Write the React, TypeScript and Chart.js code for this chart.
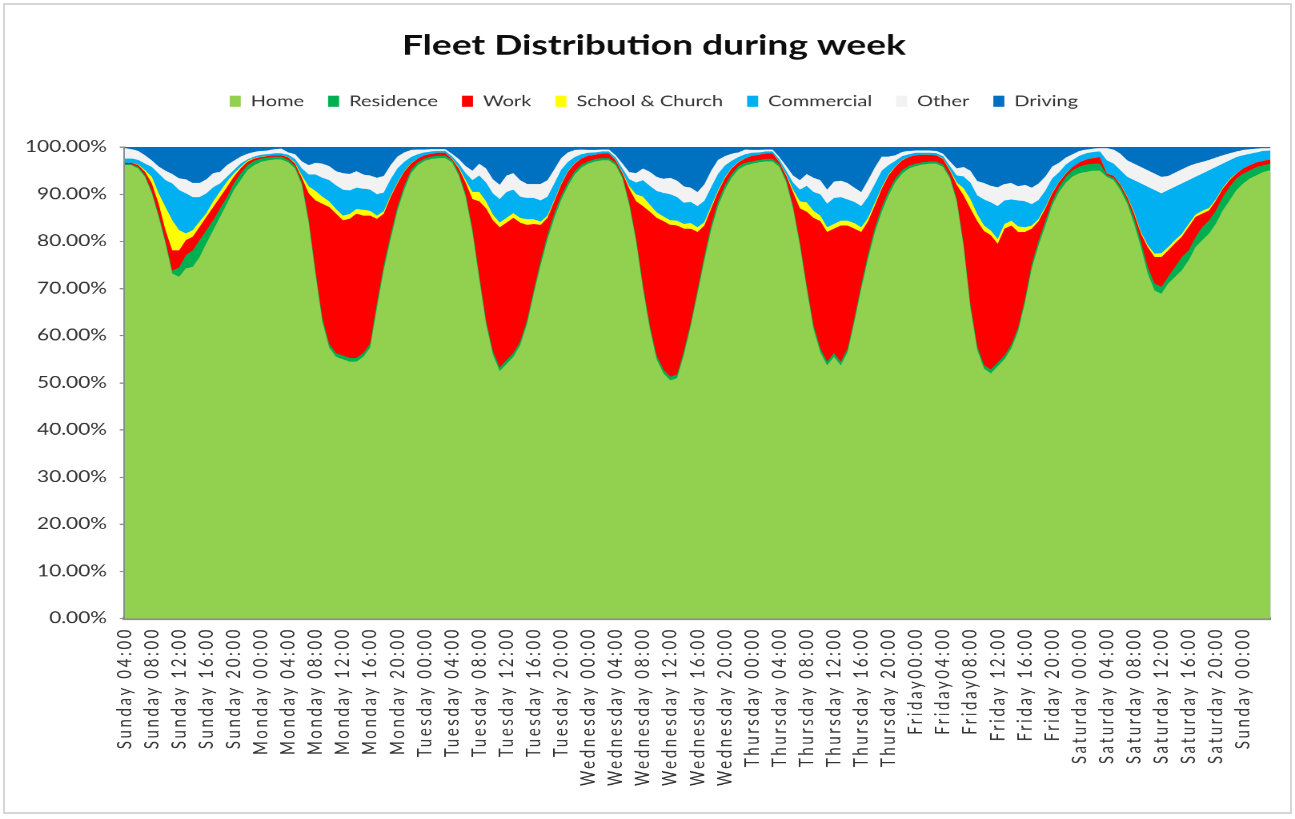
import React, { useEffect, useRef } from "react";
import { Chart, registerables } from "chart.js";

Chart.register(...registerables);

// ---------- tick labels (every 4th hourly category) ----------
const TICK_LABELS = [
  "Sunday 04:00", "Sunday 08:00", "Sunday 12:00", "Sunday 16:00", "Sunday 20:00",
  "Monday 00:00", "Monday 04:00", "Monday 08:00", "Monday 12:00", "Monday 16:00", "Monday 20:00",
  "Tuesday 00:00", "Tuesday 04:00", "Tuesday 08:00", "Tuesday 12:00", "Tuesday 16:00", "Tuesday 20:00",
  "Wednesday 00:00", "Wednesday 04:00", "Wednesday 08:00", "Wednesday 12:00", "Wednesday 16:00", "Wednesday 20:00",
  "Thursday 00:00", "Thursday 04:00", "Thursday 08:00", "Thursday 12:00", "Thursday 16:00", "Thursday 20:00",
  "Friday00:00", "Friday04:00", "Friday08:00", "Friday 12:00", "Friday 16:00", "Friday 20:00",
  "Saturday 00:00", "Saturday 04:00", "Saturday 08:00", "Saturday 12:00", "Saturday 16:00", "Saturday 20:00",
  "Sunday 00:00",
];

const DAY_NAMES = ["Sunday", "Monday", "Tuesday", "Wednesday", "Thursday", "Friday", "Saturday", "Sunday"];

// ---------- series values (% of fleet), hourly from Sunday 04:00 to next Sunday 04:00 ----------
const HOME = [
  96.2, 96.2, 95.5, 93.7, 90.2, 85.2, 79.6, 73.2, 72.5, 74.3, 74.6, 76.7, 79.6, 82.4, 85.2, 88.0, 90.9, 93.0, 95.1, 96.2, 96.9, 97.2, 97.4, 97.4,
  96.8, 95.5, 92.0, 84.0, 73.0, 63.0, 57.5, 55.5, 55.0, 54.5, 54.5, 55.5, 57.5, 66.0, 74.0, 80.5, 86.5, 91.0, 94.5, 96.2, 97.1, 97.5, 97.7, 97.7,
  96.8, 94.0, 89.5, 82.0, 72.0, 62.5, 56.0, 52.5, 54.0, 55.5, 58.0, 62.5, 69.0, 75.0, 80.5, 85.0, 88.8, 91.8, 94.2, 95.7, 96.5, 97.0, 97.2, 97.2,
  96.2, 93.4, 87.7, 80.0, 70.0, 61.5, 55.0, 52.0, 50.5, 51.0, 56.0, 62.0, 69.0, 76.0, 82.5, 87.5, 91.0, 93.5, 95.3, 96.1, 96.5, 96.8, 97.0, 97.0,
  95.8, 92.6, 87.0, 79.2, 70.0, 61.5, 56.5, 53.7, 55.5, 53.7, 56.5, 63.0, 70.0, 76.4, 82.0, 86.3, 89.8, 92.6, 94.4, 95.5, 96.0, 96.3, 96.5, 96.5,
  95.8, 93.4, 88.5, 79.0, 66.0, 57.0, 53.0, 52.0, 53.5, 55.0, 57.3, 61.0, 67.0, 74.3, 79.2, 83.4, 87.7, 90.5, 92.5, 93.8, 94.5, 94.8, 95.0, 95.0,
  93.7, 93.0, 90.9, 88.0, 83.8, 78.8, 73.2, 69.6, 68.9, 71.1, 72.5, 73.9, 76.0, 78.8, 80.3, 81.7, 83.8, 86.6, 88.7, 90.9, 92.3, 93.4, 94.1, 94.8,
  95.1,
];

const RESIDENCE = [
  0.2, 0.2, 0.3, 0.4, 0.4, 0.5, 0.5, 0.6, 2.0, 2.8, 3.5, 3.6, 2.8, 2.1, 1.8, 1.4, 1.4, 1.4, 1.1, 0.9, 0.7, 0.6, 0.6, 0.6,
  0.5, 0.5, 0.6, 0.7, 0.8, 0.8, 0.8, 0.8, 0.8, 0.8, 0.8, 0.8, 0.8, 1.0, 1.0, 1.0, 0.9, 0.8, 0.7, 0.6, 0.5, 0.5, 0.5, 0.5,
  0.5, 0.5, 0.6, 0.7, 0.8, 0.8, 0.8, 0.8, 0.8, 0.8, 0.8, 0.8, 0.8, 1.0, 1.0, 1.0, 0.9, 0.8, 0.7, 0.6, 0.5, 0.5, 0.5, 0.5,
  0.5, 0.5, 0.6, 0.7, 0.8, 0.8, 0.8, 0.8, 0.8, 0.8, 0.8, 0.8, 0.8, 1.0, 1.0, 1.0, 0.9, 0.8, 0.7, 0.6, 0.5, 0.5, 0.5, 0.5,
  0.5, 0.5, 0.6, 0.7, 0.8, 0.8, 0.8, 0.8, 0.8, 0.8, 0.8, 0.8, 0.8, 1.0, 1.0, 1.0, 0.9, 0.8, 0.7, 0.6, 0.5, 0.5, 0.5, 0.5,
  0.5, 0.5, 0.6, 0.7, 0.8, 0.8, 0.8, 0.8, 0.8, 0.8, 0.8, 0.8, 0.8, 1.0, 1.0, 1.0, 0.9, 1.0, 1.2, 1.3, 1.4, 1.5, 1.5, 1.5,
  0.4, 0.5, 0.7, 0.8, 1.1, 1.2, 1.4, 1.5, 1.5, 1.4, 2.1, 2.8, 2.1, 2.1, 2.8, 2.8, 2.8, 2.8, 2.9, 2.5, 2.1, 1.7, 1.7, 1.4,
  1.4,
];

const WORK = [
  0.3, 0.3, 0.4, 0.7, 1.7, 2.3, 2.3, 4.3, 3.6, 3.2, 2.9, 2.8, 2.8, 2.8, 2.4, 2.1, 1.4, 1.1, 0.7, 0.5, 0.3, 0.3, 0.3, 0.3,
  0.5, 0.5, 0.9, 5.5, 14.9, 24.2, 29.0, 29.6, 28.7, 29.5, 30.6, 29.2, 27.2, 17.8, 10.9, 7.9, 4.9, 3.0, 1.3, 0.8, 0.7, 0.6, 0.6, 0.6,
  0.2, 1.0, 2.4, 6.3, 15.7, 23.7, 27.7, 29.7, 29.2, 28.7, 25.2, 20.2, 13.9, 7.5, 3.5, 2.5, 2.3, 2.2, 1.6, 1.3, 1.2, 0.9, 1.0, 1.0,
  0.5, 0.6, 2.9, 7.8, 16.7, 24.0, 29.2, 31.5, 32.2, 31.6, 25.9, 19.9, 12.2, 6.4, 3.5, 2.0, 1.5, 1.2, 0.8, 0.9, 1.2, 1.1, 1.2, 1.2,
  0.5, 0.9, 2.9, 7.1, 15.5, 22.7, 27.0, 27.5, 26.4, 28.9, 26.1, 18.9, 11.2, 6.9, 4.7, 3.9, 3.3, 2.4, 2.1, 1.8, 1.8, 1.6, 1.4, 1.3,
  1.2, 1.1, 2.9, 10.1, 20.2, 26.5, 28.4, 28.5, 25.2, 26.9, 25.3, 20.2, 14.2, 7.4, 4.1, 2.6, 1.6, 1.1, 0.7, 0.7, 0.9, 1.1, 1.2, 1.4,
  0.3, 0.4, 0.4, 0.6, 1.0, 1.7, 4.2, 5.6, 6.3, 5.6, 5.0, 4.3, 5.0, 4.3, 2.8, 2.1, 2.1, 1.8, 1.4, 1.0, 1.1, 1.1, 1.0, 0.9,
  0.9,
];

const SCHOOL_CHURCH = [
  0, 0, 0.1, 0.3, 1.4, 2.2, 4.9, 6.4, 4.3, 1.4, 1.4, 1.1, 0.8, 1.2, 1.2, 1.2, 0.7, 0.3, 0.2, 0.1, 0.1, 0, 0, 0,
  0.1, 0.2, 0.5, 1.5, 2.0, 1.5, 1.2, 1.0, 1.0, 1.0, 1.0, 1.2, 1.0, 0.7, 0.5, 0.3, 0.2, 0.1, 0.1, 0, 0, 0, 0, 0,
  0.1, 0.2, 0.5, 1.5, 2.0, 1.5, 1.2, 1.0, 1.0, 1.0, 1.0, 1.2, 1.0, 0.7, 0.5, 0.3, 0.2, 0.1, 0.1, 0, 0, 0, 0, 0,
  0.1, 0.2, 0.5, 1.5, 2.0, 1.5, 1.2, 1.0, 1.0, 1.0, 1.0, 1.2, 1.0, 0.7, 0.5, 0.3, 0.2, 0.1, 0.1, 0, 0, 0, 0, 0,
  0.1, 0.2, 0.5, 1.5, 2.0, 1.5, 1.2, 1.0, 1.0, 1.0, 1.0, 1.2, 1.0, 0.7, 0.5, 0.3, 0.2, 0.1, 0.1, 0, 0, 0, 0, 0,
  0.1, 0.2, 0.5, 1.5, 2.0, 1.5, 1.2, 1.0, 1.0, 1.0, 1.0, 1.2, 1.0, 0.7, 0.5, 0.3, 0.2, 0.1, 0.1, 0, 0, 0, 0, 0,
  0, 0, 0.1, 0.2, 0.3, 0.3, 0.4, 0.7, 0.8, 0.7, 0.7, 0.6, 0.6, 0.5, 0.6, 0.5, 0.3, 0.2, 0.2, 0.1, 0, 0, 0, 0,
  0,
];

const COMMERCIAL = [
  0.9, 0.9, 1.0, 1.4, 2.1, 4.2, 5.7, 7.8, 8.5, 8.5, 7.0, 5.2, 4.2, 3.0, 1.7, 1.0, 0.7, 0.7, 0.3, 0.3, 0.4, 0.4, 0.4, 0.4,
  0.5, 0.8, 1.5, 2.5, 3.5, 4.0, 4.5, 5.0, 5.5, 5.0, 4.5, 4.5, 4.5, 4.5, 4.0, 3.5, 3.0, 2.0, 1.3, 0.9, 0.6, 0.5, 0.4, 0.4,
  0.5, 0.8, 1.5, 2.5, 3.5, 4.0, 4.5, 5.0, 5.5, 5.0, 4.5, 4.5, 4.5, 4.5, 4.0, 3.5, 3.0, 2.0, 1.3, 0.9, 0.6, 0.5, 0.4, 0.4,
  0.5, 0.8, 1.5, 2.5, 3.5, 4.0, 4.5, 5.0, 5.5, 5.0, 4.5, 4.5, 4.5, 4.5, 4.0, 3.5, 2.5, 1.5, 1.0, 0.9, 0.6, 0.5, 0.4, 0.4,
  0.5, 0.8, 1.5, 2.5, 3.5, 4.0, 4.5, 5.0, 5.5, 5.0, 4.5, 4.5, 4.5, 4.5, 4.0, 3.5, 2.0, 1.2, 0.8, 0.6, 0.5, 0.4, 0.4, 0.4,
  0.5, 0.8, 1.5, 2.5, 3.5, 4.0, 5.5, 6.0, 7.0, 5.0, 4.5, 5.5, 5.5, 4.5, 4.0, 3.5, 3.0, 2.0, 1.8, 1.5, 1.4, 1.3, 1.3, 1.2,
  2.8, 2.6, 3.0, 4.1, 6.8, 10.3, 12.4, 13.5, 12.7, 12.1, 11.3, 10.7, 9.3, 8.0, 7.9, 8.0, 6.8, 5.1, 4.0, 3.4, 2.8, 2.4, 2.1, 2.1,
  1.9,
];

const OTHER = [
  2.2, 2.0, 1.9, 1.8, 1.4, 1.5, 2.0, 2.0, 2.5, 3.0, 3.0, 3.0, 3.0, 3.0, 2.5, 2.5, 2.0, 1.5, 1.2, 1.0, 0.8, 0.8, 0.9, 1.0,
  0.5, 1.0, 1.5, 2.0, 2.5, 3.0, 3.0, 3.0, 3.5, 3.5, 3.5, 3.0, 3.0, 3.5, 3.5, 3.0, 2.5, 2.0, 1.5, 1.0, 0.6, 0.5, 0.4, 0.4,
  0.5, 1.0, 1.5, 2.0, 2.5, 3.0, 3.0, 3.0, 3.5, 3.5, 3.5, 3.0, 3.0, 3.5, 3.5, 3.0, 2.5, 2.0, 1.5, 1.0, 0.6, 0.5, 0.4, 0.4,
  0.5, 1.0, 1.5, 2.0, 2.5, 3.0, 3.0, 3.0, 3.5, 3.5, 3.5, 3.0, 3.0, 3.5, 3.5, 3.0, 2.0, 1.5, 1.0, 1.0, 0.6, 0.5, 0.4, 0.4,
  0.5, 1.0, 1.5, 2.0, 2.5, 3.0, 3.0, 3.0, 3.5, 3.5, 3.5, 3.0, 3.0, 3.5, 3.5, 3.0, 1.8, 1.2, 0.9, 0.7, 0.5, 0.5, 0.5, 0.5,
  0.5, 1.0, 1.5, 2.0, 2.5, 3.0, 3.5, 3.5, 4.0, 3.5, 3.5, 3.0, 3.5, 3.5, 3.5, 3.0, 2.5, 2.0, 1.5, 1.2, 1.0, 0.8, 0.7, 0.7,
  2.6, 3.0, 3.5, 3.5, 3.5, 3.5, 3.5, 3.5, 3.5, 3.0, 3.0, 3.0, 3.0, 2.8, 2.5, 2.2, 2.0, 1.8, 1.5, 1.2, 1.1, 1.0, 0.8, 0.6,
  0.5,
];

const DRIVING = [
  0.2, 0.4, 0.8, 1.7, 2.8, 4.1, 5.0, 5.7, 6.6, 6.8, 7.6, 7.6, 6.8, 5.5, 5.2, 3.8, 2.9, 2.0, 1.4, 1.0, 0.8, 0.7, 0.4, 0.3,
  1.1, 1.5, 3.0, 3.8, 3.3, 3.5, 4.0, 5.1, 5.5, 5.7, 5.1, 5.8, 6.0, 6.5, 6.1, 3.8, 2.0, 1.1, 0.6, 0.5, 0.5, 0.4, 0.4, 0.4,
  1.4, 2.5, 4.0, 5.0, 3.5, 4.5, 6.8, 8.0, 6.0, 5.5, 7.0, 7.8, 7.8, 7.8, 7.0, 4.7, 2.3, 1.1, 0.6, 0.5, 0.6, 0.6, 0.5, 0.5,
  1.7, 3.5, 5.3, 5.5, 4.5, 5.2, 6.3, 6.7, 6.5, 7.1, 8.3, 8.6, 9.5, 7.9, 5.0, 2.7, 1.9, 1.4, 1.1, 0.5, 0.6, 0.6, 0.5, 0.5,
  2.1, 4.0, 6.0, 7.0, 5.7, 6.5, 7.0, 9.0, 7.3, 7.1, 7.6, 8.6, 9.5, 7.0, 4.3, 2.0, 2.0, 1.7, 1.0, 0.8, 0.7, 0.7, 0.7, 0.8,
  1.4, 3.0, 4.5, 4.2, 5.0, 7.2, 7.6, 8.2, 8.5, 7.8, 7.6, 8.3, 8.0, 8.6, 7.7, 6.2, 4.1, 3.3, 2.2, 1.5, 0.8, 0.5, 0.3, 0.2,
  0.2, 0.5, 1.4, 2.8, 3.5, 4.2, 4.9, 5.6, 6.3, 6.1, 5.4, 4.7, 4.0, 3.5, 3.1, 2.7, 2.2, 1.7, 1.3, 0.9, 0.6, 0.4, 0.3, 0.2,
  0.2,
];

// hourly category names built from the day list
const CATEGORIES = HOME.map((_, i) => {
  const h = 4 + i;
  return `${DAY_NAMES[Math.floor(h / 24)]} ${String(h % 24).padStart(2, "0")}:00`;
});

const SERIES = [
  { label: "Home", data: HOME, color: "#92D050" },
  { label: "Residence", data: RESIDENCE, color: "#00B050" },
  { label: "Work", data: WORK, color: "#FF0000" },
  { label: "School & Church", data: SCHOOL_CHURCH, color: "#FFFF00" },
  { label: "Commercial", data: COMMERCIAL, color: "#00B0F0" },
  { label: "Other", data: OTHER, color: "#F2F2F2" },
  { label: "Driving", data: DRIVING, color: "#0070C0" },
];

// the picture is a stretched chart: draw at a smaller size and scale it up
const PAGE_W = 1295;
const PAGE_H = 819;
const INT_W = 809;
const INT_H = 682;
const FONT = "Lato, 'Open Sans', sans-serif";
const TEXT = "#333333";
const AXIS = "#8c8c8c";

// x tick labels are drawn after the datasets (ticks.z = 1); give them letter spacing
const xLabelSpacing = {
  id: "xLabelSpacing",
  afterDatasetsDraw(chart: any) {
    chart.ctx.letterSpacing = "2.2px";
  },
  afterDraw(chart: any) {
    chart.ctx.letterSpacing = "0px";
  },
};

export default function App() {
  const ref = useRef<HTMLCanvasElement | null>(null);

  useEffect(() => {
    const canvas = ref.current;
    if (!canvas) return;
    const chart = new Chart(canvas, {
      type: "line",
      data: {
        labels: CATEGORIES,
        datasets: SERIES.map((s) => ({
          label: s.label,
          data: s.data,
          backgroundColor: s.color,
          borderColor: s.color,
          borderWidth: 0,
          pointRadius: 0,
          pointHoverRadius: 0,
          fill: "origin",
          tension: 0,
        })),
      },
      plugins: [xLabelSpacing],
      options: {
        responsive: false,
        animation: false,
        devicePixelRatio: 2,
        events: [],
        layout: { padding: { left: 8, right: 0, top: 0, bottom: 0 } },
        plugins: {
          title: {
            display: true,
            text: "Fleet Distribution during week",
            color: "#0d0d0d",
            font: { family: FONT, size: 23.2, weight: "bold", lineHeight: 1.2 },
            padding: { top: 23.9, bottom: 11.3 },
          },
          legend: {
            display: true,
            position: "top",
            labels: {
              color: TEXT,
              font: { family: FONT, size: 12.5 },
              boxWidth: 6.9,
              boxHeight: 9.2,
              padding: 15,
            },
          },
          subtitle: {
            display: true,
            text: "",
            padding: 0,
            font: { size: 10, lineHeight: 2.2 },
            weight: 500,
          } as any,
          tooltip: { enabled: false },
        },
        scales: {
          x: {
            type: "category",
            offset: false,
            grid: { display: false, drawTicks: false },
            border: { display: true, color: AXIS, width: 3 },
            ticks: {
              z: 1,
              autoSkip: false,
              maxRotation: 90,
              minRotation: 90,
              padding: 7,
              color: TEXT,
              font: { family: FONT, size: 12.5 },
              callback: (_v: any, i: number) => (i % 4 === 0 && TICK_LABELS[i / 4] ? TICK_LABELS[i / 4] : null),
            },
            afterFit: (s: any) => {
              s.height = 167;
            },
          },
          y: {
            stacked: true,
            min: 0,
            max: 100,
            grid: { display: true, drawOnChartArea: false, drawTicks: true, tickLength: 3, color: AXIS },
            border: { display: true, color: AXIS, width: 1.5 },
            ticks: {
              stepSize: 10,
              padding: 8,
              color: TEXT,
              font: { family: FONT, size: 13 },
              callback: (v: any) => Number(v).toFixed(2) + "%",
            },
            afterFit: (s: any) => {
              s.width = 69.8;
            },
          },
          // empty right-hand margin box so title and legend centre on the full width
          rightGap: {
            type: "linear",
            position: "right",
            display: true,
            grid: { display: false, drawTicks: false },
            border: { display: false },
            ticks: { display: false },
            afterFit: (s: any) => {
              s.width = 15.3;
            },
          },
        },
      } as any,
    });
    return () => chart.destroy();
  }, []);

  return (
    <div style={{ position: "absolute", left: 0, top: 0, width: PAGE_W, height: PAGE_H, background: "#ffffff", overflow: "hidden" }}>
      <div
        style={{
          position: "absolute",
          left: 0,
          top: 0,
          width: INT_W,
          height: INT_H,
          transform: `scale(${PAGE_W / INT_W}, ${PAGE_H / INT_H})`,
          transformOrigin: "0 0",
        }}
      >
        <canvas ref={ref} width={INT_W} height={INT_H} style={{ width: INT_W, height: INT_H, display: "block" }} />
      </div>
      <div
        style={{
          position: "absolute",
          left: 3,
          top: 3,
          width: 1289,
          height: 811,
          border: "2px solid #d6d6d6",
          boxSizing: "border-box",
          pointerEvents: "none",
        }}
      />
    </div>
  );
}
